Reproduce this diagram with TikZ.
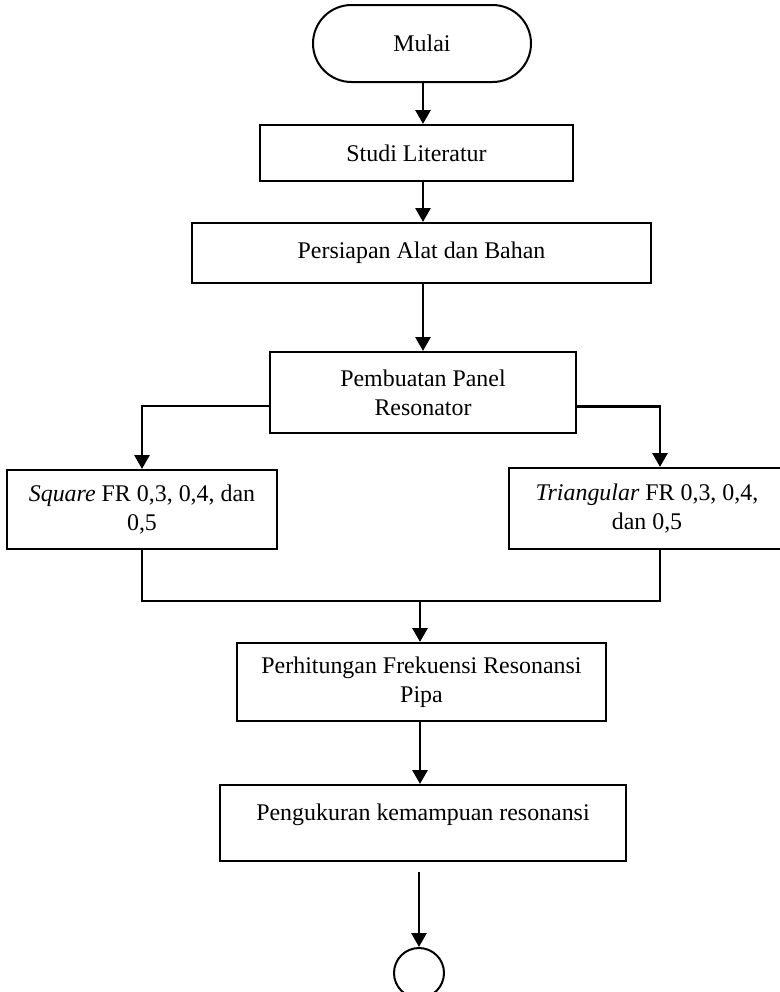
\documentclass[tikz,border=0pt]{standalone}
\usepackage{fontspec}
\setmainfont{Liberation Serif}
\usetikzlibrary{arrows.meta,shapes.misc,calc}
\begin{document}
\begin{tikzpicture}[x=0.5bp,y=-0.5bp,
	box/.style={draw,line width=1bp,align=center,inner sep=2bp,font=\fontsize{12}{14.5}\selectfont},
	arr/.style={line width=1.4bp,-{Triangle[length=7bp,width=7.5bp]}},
	link/.style={line width=1bp}]
	\useasboundingbox (0,0) rectangle (780,992);
	\coordinate (axis) at (423,0);
	\coordinate (gabung) at (420,601);
	\node[box,rounded rectangle,minimum width=113bp,minimum height=38.5bp] (mulai) at (422,43.5) {Mulai};
	\node[box,minimum width=156.5bp,minimum height=28bp] (studi) at (416.5,153) {Studi Literatur};
	\node[box,minimum width=229.5bp,minimum height=30bp] (persiapan) at (421.5,253) {Persiapan Alat dan Bahan};
	\node[box,minimum width=153bp,minimum height=40.5bp] (panel) at (423,392.5) {Pembuatan Panel\\Resonator};
	\node[box,minimum width=135bp,minimum height=39.5bp] (square) at (142,509.5) {\textit{Square} FR 0,3, 0,4, dan\\0,5};
	\node[box,minimum width=138bp,minimum height=40.5bp] (triangular) at (647,508.5) {\textit{Triangular} FR 0,3, 0,4,\\dan 0,5};
	\node[box,minimum width=184.5bp,minimum height=39bp] (hitung) at (421.5,682) {Perhitungan Frekuensi Resonansi\\Pipa};
	\node[box,minimum width=203bp,minimum height=38bp,text height=8.5bp,text depth=11.5bp] (ukur) at (423,823) {Pengukuran kemampuan resonansi};
	\node[draw,line width=1bp,circle,minimum size=25bp,inner sep=0pt] (selesai) at (419,973) {};
	\draw[arr] (axis |- mulai.south) -- (axis |- studi.north);
	\draw[arr] (axis |- studi.south) -- (axis |- persiapan.north);
	\draw[arr] (axis |- persiapan.south) -- (axis |- panel.north);
	\draw[arr] ($(panel.west)+(0,13.5)$) -| (square.north);
	\draw[arr] ($(panel.east)+(0,14)$) -| ($(triangular.north)+(13,0)$);
	\draw[link] (square.south) |- (gabung) -| ($(triangular.south)+(13,0)$);
	\draw[arr] (gabung) -- (gabung |- hitung.north);
	\draw[arr] (gabung |- hitung.south) -- (gabung |- ukur.north);
	\draw[arr,shorten <=5bp] (selesai |- ukur.south) -- (selesai.north);
\end{tikzpicture}
\end{document}
